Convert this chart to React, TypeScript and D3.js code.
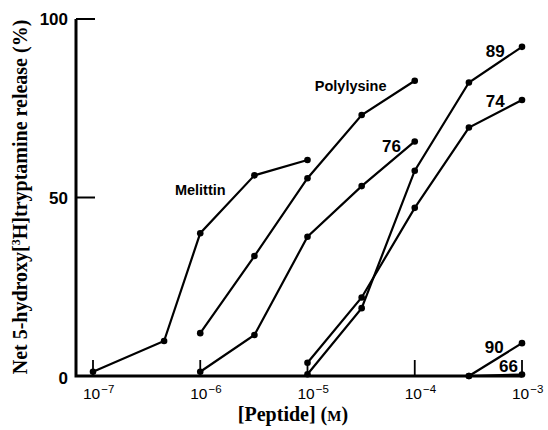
import React, { useEffect, useRef } from 'react';
import * as d3 from 'd3';

// concentrations (M) and % release
const melittinX = [1e-7, 4.6e-7, 1e-6, 3.2e-6, 1e-5];
const melittinY = [1.2, 9.8, 40, 56.2, 60.5];
const polylysineX = [1e-6, 3.2e-6, 1e-5, 3.2e-5, 1e-4];
const polylysineY = [12, 33.6, 55.4, 73.1, 82.7];
const p76X = [1e-6, 3.2e-6, 1e-5, 3.2e-5, 1e-4];
const p76Y = [1.2, 11.5, 39, 53.2, 65.7];
const p89X = [1e-5, 3.2e-5, 1e-4, 3.2e-4, 1e-3];
const p89Y = [0.5, 19, 57.5, 82.2, 92.2];
const p74X = [1e-5, 3.2e-5, 1e-4, 3.2e-4, 1e-3];
const p74Y = [3.7, 22, 47.1, 69.6, 77.3];
const p90X = [3.2e-4, 1e-3];
const p90Y = [0, 9.2];
const p66X = [3.2e-4, 1e-3];
const p66Y = [0, 0.4];

const xTicks = [1e-7, 1e-6, 1e-5, 1e-4, 1e-3];
const xTickExp = ['\u22127', '\u22126', '\u22125', '\u22124', '\u22123'];
const yTicks = [0, 50, 100];

const seriesNames = ['Melittin', 'Polylysine', '76', '89', '74', '90', '66'];
const seriesX = [melittinX, polylysineX, p76X, p89X, p74X, p90X, p66X];
const seriesY = [melittinY, polylysineY, p76Y, p89Y, p74Y, p90Y, p66Y];

// label anchor: concentration / value where each name sits
const labelX = [5.8e-7, 1.17e-5, 4.95e-5, 4.6e-4, 4.6e-4, 4.5e-4, 6.1e-4];
const labelY = [50.7, 79.8, 62.7, 89.4, 75.4, 6.4, 1.1];

const App = () => {
  const svgRef = useRef<SVGSVGElement>(null);

  useEffect(() => {
    const svg = d3.select(svgRef.current);
    svg.selectAll('*').remove();

    const x = d3.scaleLog().domain([1e-7, 1e-3]).range([93, 522]);
    const y = d3.scaleLinear().domain([0, 100]).range([376, 19]);
    const axisX0 = 76;

    svg.append('rect').attr('width', 548).attr('height', 430).attr('fill', '#fff');

    const g = svg.append('g');

    // axes
    g.append('path')
      .attr('d', `M${axisX0},${y(100)}V${y(0)}H${x(1e-3)}`)
      .attr('fill', 'none')
      .attr('stroke', '#000')
      .attr('stroke-width', 3);

    g.selectAll('.ytick')
      .data(yTicks.filter(d => d > 0))
      .enter().append('line')
      .attr('x1', axisX0)
      .attr('x2', axisX0 + 19)
      .attr('y1', d => y(d))
      .attr('y2', d => y(d))
      .attr('stroke', '#000')
      .attr('stroke-width', 2);

    g.selectAll('.ylab')
      .data(yTicks)
      .enter().append('text')
      .attr('x', 68)
      .attr('y', d => y(d) + (d === 0 ? 8 : 6))
      .attr('text-anchor', 'end')
      .style('font-family', 'Liberation Sans, Arial, sans-serif')
      .style('font-weight', 'bold')
      .style('font-size', '17px')
      .text(d => d);

    g.selectAll('.xtick')
      .data(xTicks)
      .enter().append('line')
      .attr('x1', d => x(d))
      .attr('x2', d => x(d))
      .attr('y1', y(0))
      .attr('y2', y(0) - 16)
      .attr('stroke', '#000')
      .attr('stroke-width', 1.8);

    const xl = g.selectAll('.xlab')
      .data(xTicks)
      .enter().append('text')
      .attr('x', d => x(d) - 10)
      .attr('y', 399)
      .style('font-family', 'Liberation Sans, Arial, sans-serif')
      .style('font-size', '15.5px');
    xl.append('tspan').text('10');
    xl.append('tspan')
      .attr('dy', -6)
      .attr('dx', 1)
      .style('font-size', '11.5px')
      .text((d, i) => xTickExp[i]);

    // axis titles
    const xt = g.append('text')
      .attr('x', 293)
      .attr('y', 421)
      .attr('text-anchor', 'middle')
      .style('font-family', 'Liberation Serif, Times New Roman, serif')
      .style('font-weight', 'bold')
      .style('font-size', '20px')
      .text('[Peptide] (');
    xt.append('tspan').style('font-size', '15px').text('M');
    xt.append('tspan').text(')');

    const yt = g.append('text')
      .attr('transform', 'translate(27,197) rotate(-90)')
      .attr('text-anchor', 'middle')
      .style('font-family', 'Liberation Serif, Times New Roman, serif')
      .style('font-weight', 'bold')
      .style('font-size', '20px')
      .text('Net 5-hydroxy[');
    yt.append('tspan').attr('dy', -7).style('font-size', '12px').text('3');
    yt.append('tspan').attr('dy', 7).text('H]tryptamine release (%)');

    // series
    const line = d3.line<[number, number]>()
      .x(d => x(d[0]))
      .y(d => y(d[1]));

    seriesX.forEach((xs, i) => {
      const pts: [number, number][] = xs.map((v, j) => [v, seriesY[i][j]]);
      g.append('path')
        .datum(pts)
        .attr('d', line)
        .attr('fill', 'none')
        .attr('stroke', '#000')
        .attr('stroke-width', 2.2);
      g.selectAll(`.dot${i}`)
        .data(pts)
        .enter().append('circle')
        .attr('cx', d => x(d[0]))
        .attr('cy', d => y(d[1]))
        .attr('r', 3.3)
        .attr('fill', '#000');
    });

    // series labels
    g.selectAll('.slab')
      .data(seriesNames)
      .enter().append('text')
      .attr('x', (d, i) => x(labelX[i]))
      .attr('y', (d, i) => y(labelY[i]))
      .style('font-family', 'Liberation Sans, Arial, sans-serif')
      .style('font-weight', 'bold')
      .style('font-size', d => (d.length > 2 ? '14.5px' : '17px'))
      .text(d => d);
  }, []);

  return (
    <svg
      ref={svgRef}
      width={548}
      height={430}
      style={{ position: 'absolute', left: 0, top: 0 }}
    />
  );
};

export default App;
